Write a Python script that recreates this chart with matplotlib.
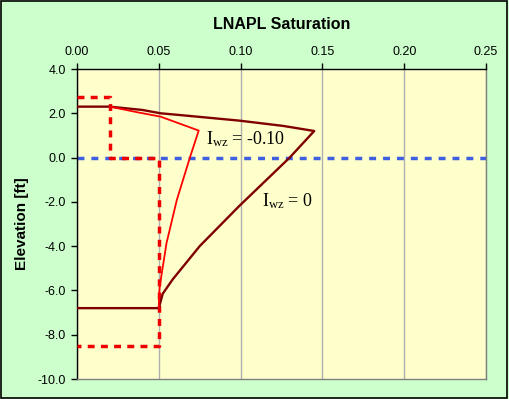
import matplotlib
matplotlib.use("Agg")
import matplotlib.pyplot as plt
from matplotlib.patches import Rectangle

# Data
iwz0_x = [0.0, 0.02, 0.040, 0.051, 0.063, 0.099, 0.126, 0.145, 0.130, 0.099, 0.075, 0.0585, 0.0524, 0.05, 0.0]
iwz0_y = [2.3, 2.3, 2.15, 2.0, 1.92, 1.67, 1.43, 1.2, 0.0, -2.2, -4.0, -5.5, -6.15, -6.8, -6.8]

iwz10_x = [0.02, 0.038, 0.051, 0.0744, 0.069, 0.061, 0.0547, 0.0506, 0.0502, 0.05]
iwz10_y = [2.3, 2.03, 1.85, 1.22, 0.0, -1.92, -3.87, -5.8, -6.2, -6.8]

step_x = [0.0, 0.02, 0.02, 0.05, 0.05, 0.0]
step_y = [2.75, 2.75, 0.0, 0.0, -8.5, -8.5]

xticks = [0.00, 0.05, 0.10, 0.15, 0.20, 0.25]
yticks = [4.0, 2.0, 0.0, -2.0, -4.0, -6.0, -8.0, -10.0]

plt.rcParams['font.family'] = ['Liberation Sans', 'DejaVu Sans']
plt.rcParams['mathtext.fontset'] = 'custom'
plt.rcParams['mathtext.rm'] = 'Liberation Serif'
plt.rcParams['mathtext.it'] = 'Liberation Serif:italic'

fig = plt.figure(figsize=(5.09, 3.99), dpi=100, facecolor='#CCFFCC')
fig.patches.append(Rectangle((0.002, 0.003), 0.995, 0.994, transform=fig.transFigure,
                             fill=False, edgecolor='black', linewidth=1.2))
ax = fig.add_axes([77/509, 1-379/399, (486-77)/509, (379-69)/399])
ax.set_facecolor('#FFFFCC')

ax.set_xlim(0, 0.25)
ax.set_ylim(-10, 4)
ax.xaxis.tick_top()
ax.xaxis.set_label_position('top')
ax.set_xticks(xticks)
ax.set_xticklabels([f"{v:.2f}" for v in xticks], fontsize=9)
ax.set_yticks(yticks)
ax.set_yticklabels([f"{v:.1f}" for v in yticks], fontsize=9)
ax.tick_params(axis='both', direction='out', length=4, width=1, pad=4)
ax.grid(axis='x', color='#B0B0B0', linewidth=1)
ax.set_axisbelow(True)

for s in ['top', 'left']:
    ax.spines[s].set_color('black')
    ax.spines[s].set_linewidth(1)
for s in ['bottom', 'right']:
    ax.spines[s].set_color('#808080')
    ax.spines[s].set_linewidth(1)

ax.plot([0, 0.25], [0, 0], color='#3D5FE0', linewidth=2.5, linestyle=(0, (2, 2)), zorder=2)
ax.plot(step_x, step_y, color='#EE0000', linewidth=2.5, linestyle=(0, (2, 1.8)), zorder=3)
ax.plot(iwz0_x, iwz0_y, color='#800000', linewidth=1.7, zorder=4)
ax.plot(iwz10_x, iwz10_y, color='#FF0000', linewidth=1.3, zorder=4)

ax.text(0.0787, 0.85, r'I$_{\mathrm{wz}}$ = -0.10', fontsize=13, family='Liberation Serif',
        ha='left', va='center')
ax.text(0.1131, -1.95, r'I$_{\mathrm{wz}}$ = 0', fontsize=13, family='Liberation Serif',
        ha='left', va='center')

ax.set_title('LNAPL Saturation', fontsize=11.5, fontweight='bold', pad=29)
ax.set_ylabel('Elevation [ft]', fontsize=11, fontweight='bold', labelpad=6)

fig.savefig('out.png', dpi=100, facecolor=fig.get_facecolor())
